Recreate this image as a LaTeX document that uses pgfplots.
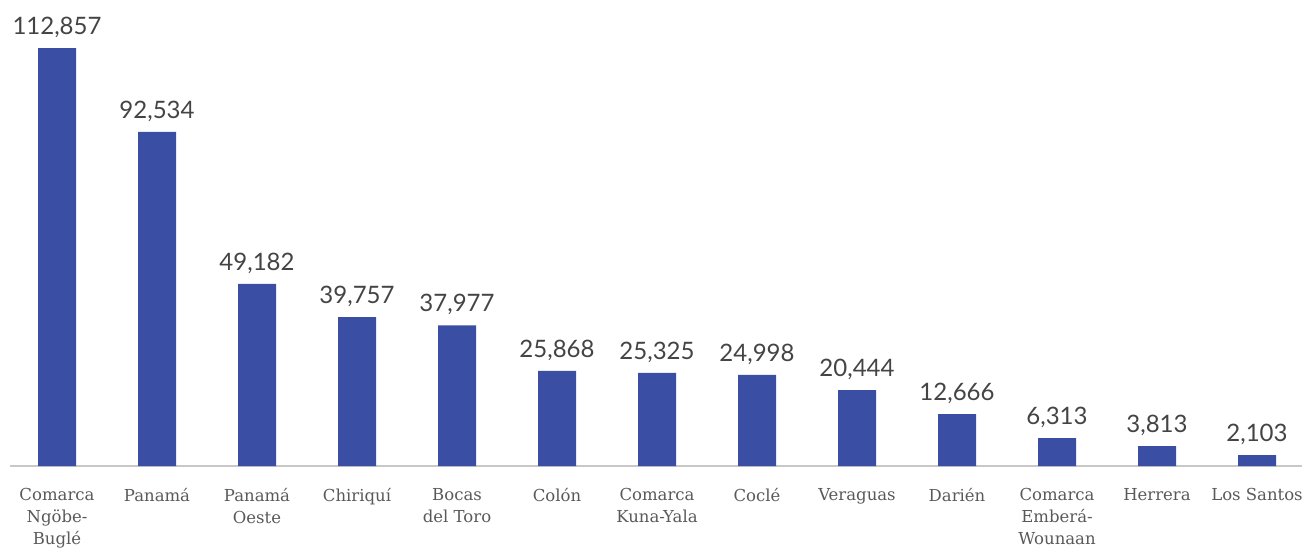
\documentclass[border=0pt]{standalone}
\usepackage{fontspec}
\setmainfont{Lato}
\newfontfamily\catfont{DejaVu Serif}
\usepackage{pgfplots}
\usepackage{pgfplotstable}
\pgfplotsset{compat=1.18}
\definecolor{barblue}{RGB}{58,79,163}
\definecolor{axisgray}{RGB}{200,200,200}
\definecolor{valgray}{RGB}{68,68,68}
\definecolor{catgray}{RGB}{89,89,89}
% x = position, h = drawn bar height, v = value label
\pgfplotstableread{
x h v
0 112857 112857
1 90180 92534
2 49182 49182
3 40200 39757
4 37977 37977
5 25700 25868
6 25150 25325
7 24600 24998
8 20500 20444
9 14040 12666
10 7560 6313
11 5400 3813
12 2970 2103
}\datatable
\begin{document}
\begin{tikzpicture}[x=1pt,y=1pt]
\useasboundingbox (-10,-84) rectangle (1292,466);
\begin{axis}[
  at={(0,0)}, anchor=south west,
  scale only axis,
  width=1292pt, height=456pt,
  xmin=-0.47, xmax=12.45,
  ymin=0, ymax=123117,
  axis x line=bottom,
  axis y line=none,
  axis line style={axisgray, line width=1.6pt, -},
  x axis line style={-},
  major tick length=0pt,
  xtick=data,
  xticklabels={{Comarca\\Ngöbe-\\Buglé},Panamá,{Panamá\\Oeste},Chiriquí,{Bocas\\del Toro},Colón,{Comarca\\Kuna-Yala},Coclé,Veraguas,Darién,{Comarca\\Emberá-\\Wounaan},Herrera,{Los Santos}},
  xticklabel style={font=\catfont\fontsize{16.5}{22}\selectfont, text=catgray, align=center, anchor=north, yshift=-19pt},
  ybar, bar width=0.38,
  nodes near coords,
  point meta=explicit,
  every node near coord/.append style={font=\fontsize{24}{28}\selectfont, text=valgray, yshift=7pt},
  /pgf/number format/.cd, fixed, precision=0, 1000 sep={,}, assume math mode=true,
  /pgfplots/.cd,
  clip=false,
]
\addplot[fill=barblue, draw=none] table[x=x, y=h, meta=v] {\datatable};
\end{axis}
\end{tikzpicture}
\end{document}
